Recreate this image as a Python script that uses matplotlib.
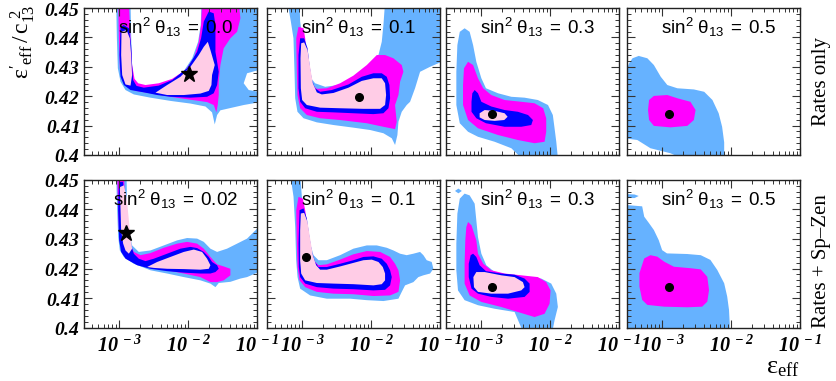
import matplotlib
matplotlib.use('Agg')
import matplotlib.pyplot as plt
import numpy as np
from matplotlib.ticker import FixedLocator, FuncFormatter, LogLocator, MultipleLocator, NullFormatter

plt.rcParams['mathtext.fontset'] = 'custom'
plt.rcParams['mathtext.rm'] = 'Liberation Serif'
plt.rcParams['mathtext.it'] = 'Liberation Serif:italic'
plt.rcParams['mathtext.bf'] = 'Liberation Serif:bold:italic'
plt.rcParams['mathtext.sf'] = 'Liberation Sans'

# contour outlines: (log10 eps_eff, eps'_eff / c13^2)
top1_lb = [(-3.043, 0.452), (-3.033, 0.4397), (-3.019, 0.4295), (-2.980, 0.4249), (-2.908, 0.4221), (-2.787, 0.4206),
           (-2.546, 0.4195), (-2.256, 0.4184), (-1.966, 0.4175), (-1.748, 0.4165), (-1.652, 0.4145), (-1.613, 0.4104),
           (-1.579, 0.4136), (-1.531, 0.4152), (-1.362, 0.4161), (-1.193, 0.4170), (-0.975, 0.4179), (-0.975, 0.4215),
           (-1.120, 0.4221), (-1.193, 0.4244), (-1.144, 0.4278), (-0.975, 0.4289), (-0.975, 0.452), (-1.806, 0.452),
           (-1.816, 0.4442), (-1.855, 0.4385), (-1.940, 0.4329), (-2.062, 0.4286), (-2.256, 0.4252), (-2.449, 0.4234),
           (-2.642, 0.4228), (-2.745, 0.4234), (-2.800, 0.4255), (-2.815, 0.4306), (-2.825, 0.4397), (-2.835, 0.452)]
top1_mag = [(-3.014, 0.452), (-3.004, 0.4397), (-2.990, 0.4295), (-2.956, 0.4255), (-2.884, 0.4232), (-2.763, 0.4218),
            (-2.546, 0.4210), (-2.256, 0.4198), (-1.966, 0.4188), (-1.724, 0.4180), (-1.628, 0.4170), (-1.589, 0.4145),
            (-1.570, 0.4170), (-1.555, 0.4204), (-1.555, 0.4249), (-1.531, 0.4306), (-1.483, 0.4363), (-1.386, 0.4397),
            (-1.289, 0.4419), (-1.241, 0.4465), (-1.265, 0.452), (-1.797, 0.452), (-1.811, 0.4442), (-1.845, 0.4385),
            (-1.917, 0.4329), (-2.038, 0.4289), (-2.231, 0.4259), (-2.425, 0.4244), (-2.618, 0.4238), (-2.724, 0.4244),
            (-2.777, 0.4259), (-2.812, 0.4306), (-2.835, 0.4397), (-2.859, 0.452)]
top1_blue = [(-2.980, 0.4436), (-2.995, 0.4340), (-2.980, 0.4266), (-2.932, 0.4238), (-2.835, 0.4221), (-2.642, 0.4213),
             (-2.449, 0.4204), (-2.256, 0.4198), (-1.966, 0.4195), (-1.724, 0.4198), (-1.628, 0.4210), (-1.579, 0.4238),
             (-1.555, 0.4283), (-1.579, 0.4317), (-1.603, 0.4351), (-1.603, 0.4442), (-1.628, 0.4482), (-1.700, 0.4488),
             (-1.772, 0.4454), (-1.811, 0.4397), (-1.869, 0.4351), (-2.014, 0.4295), (-2.231, 0.4255), (-2.425, 0.4236),
             (-2.642, 0.4229), (-2.748, 0.4235), (-2.797, 0.4255), (-2.812, 0.4306), (-2.826, 0.4374), (-2.859, 0.4431),
             (-2.932, 0.4442)]
top1_pink_arm = [(-2.966, 0.4419), (-2.971, 0.4340), (-2.956, 0.4272), (-2.908, 0.4240), (-2.835, 0.4236), (-2.812, 0.4272),
                 (-2.826, 0.4340), (-2.845, 0.4397), (-2.893, 0.4425)]
top1_pink = [(-2.473, 0.4212), (-2.304, 0.4238), (-2.111, 0.4266), (-1.966, 0.4300), (-1.845, 0.4340), (-1.772, 0.4368),
             (-1.714, 0.4385), (-1.676, 0.4357), (-1.613, 0.4306), (-1.652, 0.4272), (-1.661, 0.4238), (-1.700, 0.4218),
             (-1.821, 0.4209), (-2.062, 0.4204), (-2.304, 0.4204)]

top2_lb = [(-3.213, 0.452), (-3.164, 0.4454), (-3.126, 0.4397), (-3.111, 0.4283), (-3.101, 0.4193), (-3.068, 0.4147),
           (-2.980, 0.4125), (-2.787, 0.4111), (-2.546, 0.4102), (-2.256, 0.4093), (-2.014, 0.4085), (-1.821, 0.4074),
           (-1.700, 0.4057), (-1.652, 0.4034), (-1.618, 0.4068), (-1.603, 0.4113), (-1.555, 0.4147), (-1.483, 0.4170),
           (-1.434, 0.4181), (-1.362, 0.4227), (-1.289, 0.4283), (-1.144, 0.4300), (-0.975, 0.4317), (-0.975, 0.452),
           (-1.797, 0.452), (-1.821, 0.4442), (-1.845, 0.4385), (-1.893, 0.4340), (-1.990, 0.4312), (-2.111, 0.4283),
           (-2.280, 0.4259), (-2.473, 0.4238), (-2.666, 0.4232), (-2.812, 0.4244), (-2.908, 0.4272), (-2.956, 0.4317),
           (-2.990, 0.4385), (-3.029, 0.4454), (-3.038, 0.452)]
top2_mag = [(-3.053, 0.4436), (-3.086, 0.4397), (-3.077, 0.4283), (-3.068, 0.4204), (-3.029, 0.4159), (-2.932, 0.4136),
            (-2.739, 0.4125), (-2.449, 0.4119), (-2.062, 0.4108), (-1.821, 0.4096), (-1.652, 0.4088), (-1.628, 0.4113),
            (-1.652, 0.4170), (-1.603, 0.4204), (-1.579, 0.4249), (-1.531, 0.4283), (-1.555, 0.4306), (-1.676, 0.4329),
            (-1.797, 0.4340), (-1.917, 0.4340), (-2.062, 0.4306), (-2.256, 0.4270), (-2.449, 0.4244), (-2.642, 0.4227),
            (-2.787, 0.4225), (-2.874, 0.4244), (-2.908, 0.4283), (-2.932, 0.4340), (-2.956, 0.4397), (-2.980, 0.4431)]
top2_blue = [(-3.029, 0.4397), (-3.053, 0.4340), (-3.053, 0.4227), (-3.029, 0.4181), (-2.956, 0.4159), (-2.787, 0.4147),
             (-2.546, 0.4145), (-2.256, 0.4142), (-1.966, 0.4139), (-1.821, 0.4142), (-1.748, 0.4159), (-1.724, 0.4193),
             (-1.734, 0.4238), (-1.772, 0.4266), (-1.845, 0.4278), (-1.966, 0.4278), (-2.135, 0.4266), (-2.328, 0.4240),
             (-2.570, 0.4221), (-2.739, 0.4215), (-2.812, 0.4227), (-2.859, 0.4255), (-2.893, 0.4306), (-2.922, 0.4363),
             (-2.971, 0.4397)]
top2_pink = [(-3.014, 0.4380), (-3.024, 0.4329), (-3.019, 0.4227), (-3.000, 0.4187), (-2.932, 0.4170), (-2.739, 0.4161),
             (-2.449, 0.4159), (-2.111, 0.4157), (-1.869, 0.4157), (-1.797, 0.4170), (-1.782, 0.4204), (-1.797, 0.4244),
             (-1.845, 0.4261), (-1.966, 0.4261), (-2.135, 0.4252), (-2.328, 0.4229), (-2.546, 0.4211), (-2.715, 0.4206),
             (-2.787, 0.4213), (-2.845, 0.4244), (-2.884, 0.4300), (-2.922, 0.4357), (-2.971, 0.4383)]

top3_lb = [(-3.24, 0.4431), (-3.167, 0.4419), (-3.117, 0.4374), (-3.07, 0.4317), (-2.997, 0.4261), (-2.93, 0.4227),
           (-2.756, 0.4210), (-2.562, 0.4198), (-2.37, 0.4195), (-2.177, 0.4187), (-2.03, 0.4170), (-1.96, 0.4136),
           (-1.935, 0.4091), (-1.91, 0.4045), (-1.887, 0.399), (-2.418, 0.399), (-2.562, 0.4023), (-2.804, 0.4045),
           (-3.046, 0.4062), (-3.19, 0.4079), (-3.31, 0.4108), (-3.36, 0.4170), (-3.36, 0.4283), (-3.345, 0.4374),
           (-3.31, 0.4419)]
top3_mag = [(-3.19, 0.4317), (-3.117, 0.4306), (-3.046, 0.4261), (-2.97, 0.4227), (-2.853, 0.4204), (-2.66, 0.4187),
            (-2.418, 0.4181), (-2.225, 0.4176), (-2.10, 0.4159), (-2.056, 0.4125), (-2.056, 0.4079), (-2.08, 0.4045),
            (-2.225, 0.4040), (-2.467, 0.4051), (-2.756, 0.4068), (-3.046, 0.4091), (-3.19, 0.4119), (-3.263, 0.4170),
            (-3.263, 0.4238), (-3.249, 0.4295)]
top3_blue = [(-3.094, 0.4221), (-3.046, 0.4210), (-2.997, 0.4181), (-2.853, 0.4165), (-2.66, 0.4153), (-2.467, 0.4147),
             (-2.32, 0.4136), (-2.249, 0.4119), (-2.273, 0.4102), (-2.418, 0.4096), (-2.66, 0.4096), (-2.93, 0.4108),
             (-3.07, 0.4125), (-3.14, 0.4147), (-3.14, 0.4181), (-3.128, 0.4210)]
top3_pink = [(-3.022, 0.4142), (-2.949, 0.4153), (-2.804, 0.4150), (-2.66, 0.4142), (-2.616, 0.4130), (-2.665, 0.4119),
             (-2.804, 0.4116), (-2.949, 0.4119), (-3.022, 0.4128)]

top4_lb = [(-3.55, 0.4266), (-3.48, 0.4312), (-3.43, 0.4329), (-3.34, 0.4337), (-3.215, 0.4329), (-3.12, 0.4306),
           (-3.02, 0.4266), (-2.925, 0.4238), (-2.78, 0.4227), (-2.54, 0.4223), (-2.39, 0.4215), (-2.27, 0.4187),
           (-2.18, 0.4142), (-2.13, 0.4096), (-2.10, 0.4043), (-2.10, 0.398), (-2.635, 0.398), (-2.88, 0.4006),
           (-3.17, 0.4023), (-3.36, 0.4051), (-3.55, 0.4057)]
top4_mag = [(-3.19, 0.4187), (-3.12, 0.4201), (-2.925, 0.4204), (-2.78, 0.4193), (-2.59, 0.4181), (-2.515, 0.4153),
            (-2.54, 0.4119), (-2.635, 0.4099), (-2.88, 0.4094), (-3.12, 0.4099), (-3.19, 0.4119), (-3.205, 0.4153)]

bot1_lb = [(-3.043, 0.452), (-3.029, 0.4397), (-3.014, 0.4307), (-2.990, 0.4261), (-2.932, 0.4239), (-2.787, 0.4216),
           (-2.546, 0.4194), (-2.304, 0.4183), (-2.062, 0.4171), (-1.821, 0.4160), (-1.676, 0.4149), (-1.603, 0.4137),
           (-1.555, 0.4151), (-1.386, 0.4155), (-1.241, 0.4166), (-1.144, 0.4171), (-0.975, 0.4188), (-0.975, 0.4340),
           (-1.144, 0.4301), (-1.289, 0.4284), (-1.435, 0.4267), (-1.579, 0.4256), (-1.676, 0.4267), (-1.772, 0.4290),
           (-1.869, 0.4301), (-2.014, 0.4303), (-2.159, 0.4295), (-2.352, 0.4278), (-2.546, 0.4261), (-2.715, 0.4256),
           (-2.812, 0.4278), (-2.859, 0.4329), (-2.884, 0.4397), (-2.893, 0.452)]
bot1_mag = [(-3.029, 0.452), (-3.014, 0.4397), (-3.000, 0.4307), (-2.971, 0.4267), (-2.908, 0.4245), (-2.763, 0.4222),
            (-2.546, 0.4205), (-2.304, 0.4194), (-2.062, 0.4183), (-1.821, 0.4171), (-1.676, 0.4154), (-1.579, 0.4154),
            (-1.483, 0.4160), (-1.386, 0.4177), (-1.386, 0.4199), (-1.483, 0.4207), (-1.579, 0.4214), (-1.676, 0.4239),
            (-1.772, 0.4267), (-1.869, 0.4284), (-2.014, 0.4290), (-2.159, 0.4284), (-2.352, 0.4270), (-2.546, 0.4252),
            (-2.691, 0.4245), (-2.787, 0.4256), (-2.835, 0.4278), (-2.874, 0.4324), (-2.908, 0.4397), (-2.932, 0.452)]
bot1_blue = [(-3.004, 0.4492), (-3.014, 0.4397), (-3.000, 0.4295), (-2.971, 0.4256), (-2.908, 0.4233), (-2.739, 0.4211),
             (-2.546, 0.4199), (-2.304, 0.4191), (-2.062, 0.4186), (-1.821, 0.4183), (-1.676, 0.4183), (-1.603, 0.4188),
             (-1.555, 0.4199), (-1.579, 0.4211), (-1.652, 0.4222), (-1.700, 0.4239), (-1.772, 0.4256), (-1.869, 0.4269),
             (-1.966, 0.4273), (-2.111, 0.4267), (-2.304, 0.4250), (-2.497, 0.4233), (-2.618, 0.4225), (-2.715, 0.4233),
             (-2.787, 0.4250), (-2.835, 0.4284), (-2.874, 0.4329), (-2.908, 0.4397), (-2.942, 0.4492)]
bot1_pink_arm = [(-2.990, 0.4475), (-2.980, 0.4397), (-2.971, 0.4329), (-2.942, 0.4284), (-2.908, 0.4261), (-2.859, 0.4250),
                 (-2.812, 0.4267), (-2.835, 0.4307), (-2.859, 0.4363), (-2.893, 0.4442), (-2.932, 0.4481)]
bot1_pink = [(-2.594, 0.4205), (-2.449, 0.4222), (-2.256, 0.4239), (-2.062, 0.4256), (-1.917, 0.4264), (-1.797, 0.4256),
             (-1.724, 0.4233), (-1.676, 0.4211), (-1.700, 0.4199), (-1.821, 0.4196), (-2.062, 0.4198), (-2.304, 0.4199),
             (-2.497, 0.4202)]

bot2_lb = [(-3.173, 0.452), (-3.125, 0.4442), (-3.101, 0.4340), (-3.087, 0.4228), (-3.067, 0.4171), (-3.029, 0.4132),
           (-2.884, 0.4109), (-2.642, 0.4098), (-2.304, 0.4098), (-2.062, 0.4093), (-1.821, 0.4090), (-1.603, 0.4098),
           (-1.555, 0.4121), (-1.507, 0.4143), (-1.386, 0.4154), (-1.314, 0.4171), (-1.241, 0.4177), (-1.144, 0.4183),
           (-1.096, 0.4199), (-1.120, 0.4222), (-1.193, 0.4228), (-1.241, 0.4245), (-1.289, 0.4256), (-1.386, 0.4250),
           (-1.483, 0.4245), (-1.579, 0.4250), (-1.676, 0.4261), (-1.772, 0.4270), (-1.917, 0.4278), (-2.062, 0.4278),
           (-2.256, 0.4267), (-2.449, 0.4245), (-2.642, 0.4228), (-2.763, 0.4228), (-2.835, 0.4245), (-2.884, 0.4284),
           (-2.922, 0.4340), (-2.971, 0.4397), (-3.004, 0.4442), (-3.029, 0.452)]
bot2_mag = [(-3.053, 0.4442), (-3.086, 0.4397), (-3.077, 0.4284), (-3.067, 0.4205), (-3.038, 0.4160), (-2.956, 0.4137),
            (-2.787, 0.4121), (-2.546, 0.4115), (-2.256, 0.4113), (-1.966, 0.4107), (-1.724, 0.4109), (-1.603, 0.4121),
            (-1.579, 0.4160), (-1.603, 0.4194), (-1.652, 0.4216), (-1.724, 0.4239), (-1.869, 0.4256), (-2.062, 0.4259),
            (-2.256, 0.4248), (-2.449, 0.4230), (-2.642, 0.4214), (-2.763, 0.4211), (-2.835, 0.4228), (-2.884, 0.4273),
            (-2.922, 0.4340), (-2.956, 0.4397), (-2.990, 0.4436)]
bot2_blue = [(-3.038, 0.4397), (-3.053, 0.4284), (-3.048, 0.4205), (-3.029, 0.4171), (-2.956, 0.4149), (-2.787, 0.4137),
             (-2.546, 0.4132), (-2.256, 0.4130), (-1.966, 0.4126), (-1.797, 0.4128), (-1.724, 0.4143), (-1.700, 0.4171),
             (-1.724, 0.4194), (-1.772, 0.4216), (-1.845, 0.4233), (-1.966, 0.4241), (-2.111, 0.4239), (-2.256, 0.4228),
             (-2.449, 0.4216), (-2.642, 0.4205), (-2.763, 0.4205), (-2.812, 0.4222), (-2.859, 0.4256), (-2.898, 0.4312),
             (-2.932, 0.4369), (-2.980, 0.4403)]
bot2_pink = [(-3.019, 0.4386), (-3.029, 0.4329), (-3.029, 0.4228), (-3.014, 0.4183), (-2.956, 0.4160), (-2.787, 0.4151),
             (-2.546, 0.4149), (-2.256, 0.4147), (-1.966, 0.4143), (-1.845, 0.4147), (-1.797, 0.4160), (-1.797, 0.4183),
             (-1.830, 0.4205), (-1.893, 0.4222), (-1.990, 0.4230), (-2.111, 0.4228), (-2.256, 0.4219), (-2.449, 0.4207),
             (-2.642, 0.4196), (-2.739, 0.4196), (-2.797, 0.4211), (-2.845, 0.4245), (-2.884, 0.4301), (-2.922, 0.4357),
             (-2.971, 0.4388)]

bot3_lb = [(-3.24, 0.4453), (-3.167, 0.4447), (-3.094, 0.4419), (-3.07, 0.4363), (-3.046, 0.4306), (-2.997, 0.4250),
           (-2.925, 0.4211), (-2.804, 0.4188), (-2.61, 0.4177), (-2.37, 0.4171), (-2.128, 0.4166), (-1.983, 0.4149),
           (-1.91, 0.4115), (-1.887, 0.4070), (-1.935, 0.4025), (-1.964, 0.399), (-2.40, 0.399), (-2.515, 0.4053),
           (-2.804, 0.4064), (-3.046, 0.4076), (-3.24, 0.4093), (-3.336, 0.4126), (-3.36, 0.4194), (-3.36, 0.4284),
           (-3.345, 0.4385), (-3.31, 0.4436)]
bot3_lb_dot = [(-3.38, 0.4462), (-3.33, 0.4470), (-3.28, 0.4462), (-3.33, 0.4454)]
bot3_mag = [(-3.19, 0.4357), (-3.14, 0.4346), (-3.07, 0.4295), (-3.046, 0.4250), (-2.97, 0.4216), (-2.853, 0.4194),
            (-2.66, 0.4183), (-2.418, 0.4177), (-2.177, 0.4171), (-2.056, 0.4154), (-1.993, 0.4126), (-2.007, 0.4081),
            (-2.08, 0.4047), (-2.225, 0.4036), (-2.467, 0.4053), (-2.708, 0.4070), (-2.997, 0.4087), (-3.167, 0.4109),
            (-3.24, 0.4149), (-3.24, 0.4216), (-3.23, 0.4295), (-3.215, 0.4340)]
bot3_blue = [(-3.117, 0.4250), (-3.07, 0.4239), (-3.022, 0.4211), (-2.93, 0.4191), (-2.708, 0.4183), (-2.515, 0.4179),
             (-2.37, 0.4166), (-2.297, 0.4149), (-2.297, 0.4121), (-2.37, 0.4104), (-2.61, 0.4098), (-2.853, 0.4104),
             (-3.046, 0.4115), (-3.14, 0.4132), (-3.18, 0.4171), (-3.18, 0.4216), (-3.152, 0.4245)]
bot3_pink = [(-3.07, 0.4188), (-2.949, 0.4188), (-2.708, 0.4177), (-2.515, 0.4171), (-2.394, 0.4154), (-2.37, 0.4137),
             (-2.418, 0.4126), (-2.61, 0.4115), (-2.853, 0.4115), (-3.046, 0.4121), (-3.104, 0.4137), (-3.113, 0.4171)]

bot4_lb = [(-3.55, 0.4415), (-3.29, 0.4410), (-3.26, 0.4375), (-3.19, 0.4353), (-3.12, 0.4330), (-3.05, 0.4296),
           (-3.00, 0.4262), (-2.93, 0.4251), (-2.64, 0.4249), (-2.44, 0.4245), (-2.30, 0.4229), (-2.20, 0.4195),
           (-2.10, 0.4150), (-2.056, 0.4105), (-2.03, 0.4060), (-2.02, 0.4015), (-2.02, 0.398), (-3.55, 0.398)]
bot4_lb_dot = [(-3.55, 0.4452), (-3.40, 0.4450), (-3.34, 0.4445), (-3.40, 0.4438), (-3.55, 0.4438)]
bot4_mag = [(-3.26, 0.4234), (-3.17, 0.4245), (-3.07, 0.4240), (-2.97, 0.4223), (-2.83, 0.4206), (-2.59, 0.4201),
            (-2.44, 0.4197), (-2.345, 0.4172), (-2.32, 0.4127), (-2.345, 0.4088), (-2.42, 0.4071), (-2.635, 0.4069),
            (-2.97, 0.4071), (-3.215, 0.4077), (-3.29, 0.4094), (-3.33, 0.4139), (-3.33, 0.4184)]

# best fit points (log10 eps, y)
top_best = [(-1.98, 0.4276), (-2.17, 0.4198), (-2.84, 0.4138), (-2.90, 0.4138)]
bot_best = [(-2.905, 0.4320), (-2.94, 0.4239), (-2.84, 0.4138), (-2.90, 0.4139)]
top_marks = ['*', 'o', 'o', 'o']
bot_marks = ['*', 'o', 'o', 'o']

top_sin2 = ['0.0', '0.1', '0.3', '0.5']
bot_sin2 = ['0.02', '0.1', '0.3', '0.5']

x_ticks = [1e-3, 1e-2, 1e-1]
x_ticklabels = [r'$\mathbf{10^{\ -3}}$', r'$\mathbf{10^{\ -2}}$', r'$\mathbf{10^{\ -1}}$']
y_ticks = [0.40, 0.41, 0.42, 0.43, 0.44, 0.45]
y_ticklabels = [r'$\mathbf{0.4}$', r'$\mathbf{0.41}$', r'$\mathbf{0.42}$', r'$\mathbf{0.43}$', r'$\mathbf{0.44}$', r'$\mathbf{0.45}$']

LB, MAG, BLU, PNK = '#66b2ff', '#ff00ff', '#0000ff', '#ffcce6'

top_layers = [
    [(top1_lb, LB), (top1_mag, MAG), (top1_blue, BLU), (top1_pink_arm, PNK), (top1_pink, PNK)],
    [(top2_lb, LB), (top2_mag, MAG), (top2_blue, BLU), (top2_pink, PNK)],
    [(top3_lb, LB), (top3_mag, MAG), (top3_blue, BLU), (top3_pink, PNK)],
    [(top4_lb, LB), (top4_mag, MAG)],
]
bot_layers = [
    [(bot1_lb, LB), (bot1_mag, MAG), (bot1_blue, BLU), (bot1_pink_arm, PNK), (bot1_pink, PNK)],
    [(bot2_lb, LB), (bot2_mag, MAG), (bot2_blue, BLU), (bot2_pink, PNK)],
    [(bot3_lb, LB), (bot3_lb_dot, LB), (bot3_mag, MAG), (bot3_blue, BLU), (bot3_pink, PNK)],
    [(bot4_lb, LB), (bot4_lb_dot, LB), (bot4_mag, MAG)],
]

W, H = 837, 381
fig = plt.figure(figsize=(W / 100, H / 100), dpi=100)

lefts = [84, 267, 446, 627]
pw = 173
rows = [(8, 147), (179.7, 148)]  # top pixel, height


def draw_panel(ax, layers, title, best, mark, first_col, bottom_row):
    for poly, col in layers:
        u, y = np.array(poly).T
        ax.fill(np.power(10.0, u), y, color=col, lw=0)
    bu, by = best
    if mark == '*':
        ax.plot(10 ** bu, by, marker='*', ms=12, color='k', ls='none', zorder=5)
    else:
        ax.plot(10 ** bu, by, marker='o', ms=5.5, color='k', ls='none', zorder=5)
    ax.text(0.53, 0.865, r'$\mathsf{sin^2\ \theta_{13}\ =\ %s}$' % title, transform=ax.transAxes,
            ha='center', va='center', fontsize=13.5, zorder=6)

    ax.set_xscale('log')
    ax.set_xlim(10 ** -3.51, 10 ** -1.0)
    ax.set_ylim(0.4, 0.45)
    ax.xaxis.set_major_locator(FixedLocator(x_ticks))
    ax.xaxis.set_minor_locator(LogLocator(base=10, subs=np.arange(2, 10)))
    ax.xaxis.set_minor_formatter(NullFormatter())
    ax.yaxis.set_major_locator(FixedLocator(y_ticks))
    ax.yaxis.set_minor_locator(MultipleLocator(0.002))
    ax.tick_params(which='both', direction='in', top=True, right=True, color='#333333')
    ax.tick_params(which='major', length=6, width=0.8)
    ax.tick_params(which='minor', length=3, width=0.7)
    if bottom_row:
        ax.set_xticklabels(x_ticklabels, fontsize=14.5)
        ax.tick_params(axis='x', pad=5)
    else:
        ax.set_xticklabels([])
    if first_col:
        ax.set_yticklabels(y_ticklabels, fontsize=14)
        ax.tick_params(axis='y', pad=3)
    else:
        ax.set_yticklabels([])
    for s in ax.spines.values():
        s.set_linewidth(1.0)
        s.set_color('#222222')


for r, (top_px, h_px) in enumerate(rows):
    layers_row = top_layers if r == 0 else bot_layers
    titles = top_sin2 if r == 0 else bot_sin2
    bests = top_best if r == 0 else bot_best
    marks = top_marks if r == 0 else bot_marks
    for c in range(4):
        ax = fig.add_axes([lefts[c] / W, 1 - (top_px + h_px) / H, pw / W, h_px / H])
        draw_panel(ax, layers_row[c], titles[c], bests[c], marks[c], c == 0, r == 1)

fig.text(0.027, 0.89, r"$\mathrm{\varepsilon'_{eff}\,/\,c_{13}^{\ 2}}$", rotation=90,
         ha='center', va='center', fontsize=17)
fig.text(0.956, 0.005, r'$\mathrm{\varepsilon_{eff}}$', ha='right', va='bottom', fontsize=19)
fig.text(0.982, 0.785, 'Rates only', rotation=90, ha='center', va='center',
         family='Liberation Serif', fontsize=15)
fig.text(0.982, 0.315, 'Rates + Sp\u2013Zen', rotation=90, ha='center', va='center',
         family='Liberation Serif', fontsize=15)

fig.savefig('out.png', dpi=100, facecolor='white')
